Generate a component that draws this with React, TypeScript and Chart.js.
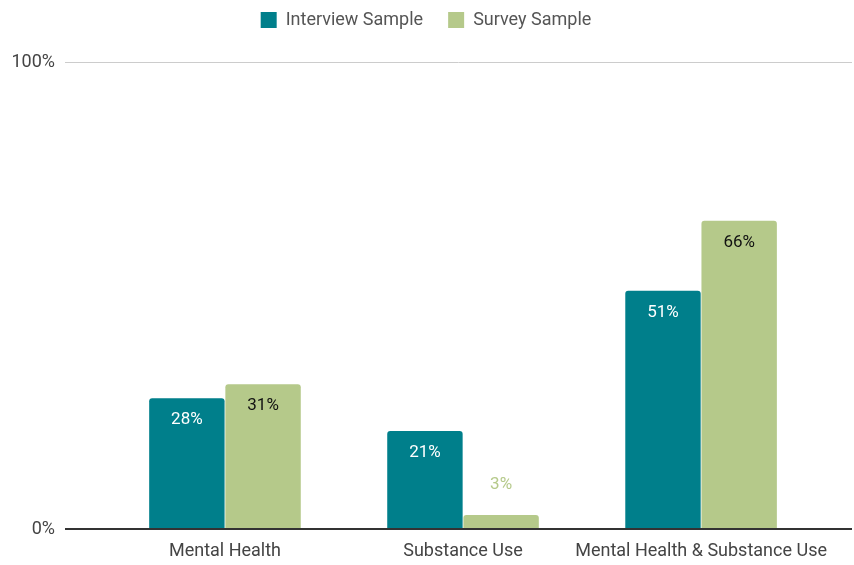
import React, { useEffect, useRef } from "react";
import { Chart, registerables } from "chart.js";

Chart.register(...registerables);

const categories = ["Mental Health", "Substance Use", "Mental Health & Substance Use"];
const interviewSample = [28, 21, 51];
const surveySample = [31, 3, 66];
const yTickLabels = ["0%", "100%"];

const TEAL = "#007f8b";
const GREEN = "#b5c98a";

const barLabels = {
  id: "barLabels",
  afterDatasetsDraw(chart: any) {
    const ctx = chart.ctx;
    ctx.save();
    ctx.font = "17px Roboto";
    ctx.textAlign = "center";
    ctx.textBaseline = "middle";
    chart.data.datasets.forEach((ds: any, di: number) => {
      const meta = chart.getDatasetMeta(di);
      meta.data.forEach((bar: any, i: number) => {
        const v = ds.data[i].y;
        const h = bar.base - bar.y;
        const txt = v + "%";
        if (h > 40) {
          ctx.fillStyle = di === 0 ? "#ffffff" : "#111111";
          ctx.fillText(txt, bar.x, bar.y + 22);
        } else {
          ctx.fillStyle = ds.backgroundColor;
          ctx.fillText(txt, bar.x, bar.y - 30);
        }
      });
    });
    ctx.restore();
  },
};

const legendSpacing = {
  id: "legendSpacing",
  beforeLayout(chart: any) {
    const lg = chart.legend;
    if (lg && !lg._patched) {
      const orig = lg.fit.bind(lg);
      lg.fit = function () {
        orig();
        this.height += 9;
      };
      lg._patched = true;
    }
  },
  afterLayout(chart: any) {
    const lg = chart.legend;
    if (lg) {
      lg.top -= 14;
      lg.bottom -= 14;
    }
  },
};

export default function App() {
  const ref = useRef<HTMLCanvasElement>(null);
  useEffect(() => {
    if (!ref.current) return;
    const chart = new Chart(ref.current, {
      type: "bar",
      data: {
        datasets: [
          {
            label: "Interview Sample",
            data: interviewSample.map((v, i) => ({ x: i, y: v })),
            backgroundColor: TEAL,
            borderRadius: { topLeft: 3, topRight: 3 },
            borderSkipped: "bottom",
            categoryPercentage: 0.64,
            barPercentage: 0.99,
          },
          {
            label: "Survey Sample",
            data: surveySample.map((v, i) => ({ x: i, y: v })),
            backgroundColor: GREEN,
            borderRadius: { topLeft: 3, topRight: 3 },
            borderSkipped: "bottom",
            categoryPercentage: 0.64,
            barPercentage: 0.99,
          },
        ] as any,
      },
      options: {
        animation: false,
        responsive: false,
        layout: { padding: { top: 0, right: 2, left: 0, bottom: 0 } },
        plugins: {
          legend: {
            position: "top",
            labels: {
              boxWidth: 16,
              boxHeight: 16,
              padding: 25,
              color: "#555",
              font: { family: "Roboto", size: 18 },
            },
          },
          tooltip: { enabled: false },
        },
        scales: {
          x: {
            type: "linear",
            offset: false,
            min: -0.672,
            max: 2.634,
            grid: { display: false, drawTicks: false },
            border: { display: false },
            afterBuildTicks(scale: any) {
              scale.ticks = categories.map((_, i) => ({ value: i }));
            },
            afterFit(scale: any) {
              scale.height = 36;
            },
            ticks: {
              autoSkip: false,
              maxRotation: 0,
              padding: 12,
              color: "#444",
              font: { family: "Roboto", size: 18 },
              callback: (v: any) => categories[v as number] ?? "",
            },
          },
          y: {
            min: 0,
            max: 100,
            afterBuildTicks(scale: any) {
              scale.ticks = [{ value: 0 }, { value: 100 }];
            },
            afterFit(scale: any) {
              scale.width = 65;
            },
            border: { display: false },
            grid: {
              drawTicks: false,
              color: (c: any) => (c.tick && c.tick.value === 0 ? "#333" : "#cccccc"),
              lineWidth: (c: any) => (c.tick && c.tick.value === 0 ? 2 : 1),
            },
            ticks: {
              padding: 10,
              color: "#444",
              font: { family: "Roboto", size: 18 },
              callback: (v: any) => (v === 0 ? yTickLabels[0] : v === 100 ? yTickLabels[1] : ""),
            },
          },
        },
      },
      plugins: [legendSpacing, barLabels],
    });
    return () => chart.destroy();
  }, []);
  return (
    <div style={{ position: "absolute", left: 0, top: 0, width: 854, height: 565, background: "#fff" }}>
      <canvas ref={ref} width={854} height={565} style={{ display: "block" }} />
    </div>
  );
}
